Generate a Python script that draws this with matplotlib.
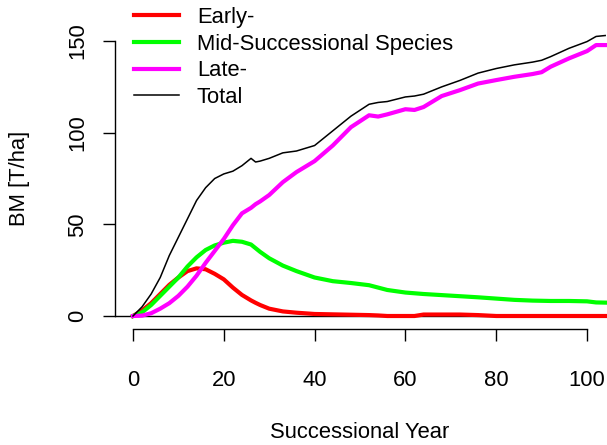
import matplotlib
matplotlib.use("Agg")
import matplotlib.pyplot as plt

plt.rcParams["font.family"] = ["Liberation Sans", "DejaVu Sans"]

# values (year, biomass T/ha)
years = [0, 2, 4, 6, 8, 10, 12, 14, 16, 18, 20, 22, 24, 26, 27, 28, 30, 33,
         36, 40, 44, 48, 52, 54, 56, 60, 62, 64, 68, 72, 76, 80, 84, 88, 90,
         92, 96, 100, 102, 104]
early = [0, 3, 7, 12, 17, 21, 24.5, 26, 25.5, 23, 20, 15.5, 11.5, 8.5, 7.2,
         6, 4, 2.5, 1.8, 1.1, 0.9, 0.7, 0.5, 0.3, 0, 0, 0, 0.8, 0.8, 0.8,
         0.5, 0, 0, 0, 0, 0, 0, 0, 0, 0]
mid = [0, 2, 6, 11, 16, 21, 27, 32, 36, 38.5, 40, 41, 40.5, 39, 37, 35,
       31.5, 27.5, 24.5, 21, 19, 18, 16.8, 15.5, 14.2, 12.8, 12.4, 12, 11.4,
       10.8, 10.2, 9.5, 8.8, 8.4, 8.3, 8.2, 8.2, 8, 7.4, 7.3]
late = [0, 0.2, 1.5, 4, 7, 11, 16, 22, 29, 35.5, 42, 49.5, 56, 59, 61, 62.5,
        66, 73, 78.5, 84.5, 93, 103, 109.5, 108.8, 110, 112.8, 112.4, 114,
        120, 123.2, 126.8, 128.7, 130.5, 132, 133, 136, 140.5, 144.5, 147.8,
        147.8]
total = [0, 5, 12, 21, 33, 43, 53, 63, 70, 75, 77.5, 79, 82, 86, 84, 84.5,
         86, 89, 90, 93, 101, 109, 115.5, 116.5, 117, 119.5, 120, 121, 125,
         128.5, 132.5, 135, 137, 138.5, 139.5, 141.5, 146, 149.7, 152.5, 153]

x_ticks = [0, 20, 40, 60, 80, 100]
y_ticks = [0, 50, 100, 150]

W, H = 607, 445
fig = plt.figure(figsize=(W / 100, H / 100), dpi=100)
ax = fig.add_axes([115 / W, (H - 329) / H, (W - 115) / W, (329 - 22.7) / H])
ax.set_xlim(-3.96, 104.4)
ax.set_ylim(-7.09, 160)

fs = 15.8
ax.axhline(0, color="black", lw=1.0, zorder=1)
ax.plot(years, early, color="#FF0000", lw=3.0, label="Early-", zorder=2)
ax.plot(years, mid, color="#00FF00", lw=3.0,
        label="Mid-Successional Species", zorder=2)
ax.plot(years, late, color="#FF00FF", lw=3.0, label="Late-", zorder=2)
ax.plot(years, total, color="black", lw=1.1, label="Total", zorder=3)

for s in ["top", "right"]:
    ax.spines[s].set_visible(False)
ax.spines["left"].set_bounds(0, 150)
ax.spines["bottom"].set_bounds(0, 100)
for s in ["left", "bottom"]:
    ax.spines[s].set_linewidth(1.0)

ax.set_xticks(x_ticks)
ax.set_yticks(y_ticks)
ax.tick_params(axis="both", direction="out", length=8.8, width=1.0,
               labelsize=fs)
ax.tick_params(axis="x", pad=21)
ax.tick_params(axis="y", pad=10.5)
for lab in ax.get_yticklabels():
    lab.set_rotation(90)
    lab.set_va("center")

fig.text(360 / W, 1 - 432 / H, "Successional Year", fontsize=fs,
         ha="center", va="center")
fig.text(20 / W, 1 - 178 / H, "BM [T/ha]", fontsize=fs, rotation=90,
         ha="center", va="center")

ax.legend(loc="upper left", bbox_to_anchor=(134 / W, 1 - 7 / H),
          bbox_transform=fig.transFigure, frameon=False, fontsize=fs,
          handlelength=2.03, handletextpad=0.83, labelspacing=0.26,
          borderpad=0, borderaxespad=0)

fig.savefig("out.png", dpi=100)
